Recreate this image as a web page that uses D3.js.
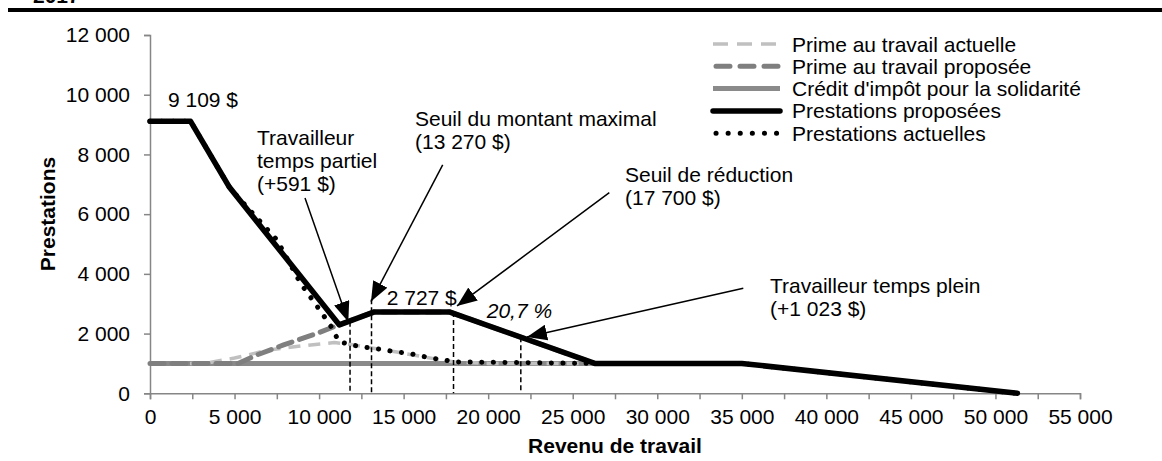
<!DOCTYPE html>
<html><head><meta charset="utf-8">
<script src="https://cdn.jsdelivr.net/npm/d3@7/dist/d3.min.js"></script>
<style>
body{margin:0;background:#fff;}
text{font-family:"Liberation Sans",Arial,sans-serif;}
</style></head>
<body>
<svg id="c" width="1162" height="461"></svg>
<script>
// ---------- data ----------
const xTicks = [0,5000,10000,15000,20000,25000,30000,35000,40000,45000,50000,55000];
const xMinorTicks = [2500,7500,12500,17500,22500,27500,32500,37500,42500,47500,52500];
const yTicks = [0,2000,4000,6000,8000,10000,12000];

const seriesNames = ["Prime au travail actuelle","Prime au travail proposée","Crédit d'impôt pour la solidarité","Prestations proposées","Prestations actuelles"];

const primeActuelleX = [0,2400,3400,5000,7000,9000,10900,11800,13200,14600,16700,18000,20000,26300];
const primeActuelleY = [1000,1000,1020,1180,1450,1590,1700,1640,1510,1380,1170,1050,1000,1000];

const primeProposeeX = [0,5200,6300,7900,9900,11200,13270,17700,26300];
const primeProposeeY = [1000,1000,1280,1620,2010,2300,2727,2727,1000];

const creditX = [0,26300];
const creditY = [1000,1000];

const proposeesX = [0,2400,4700,11200,13270,17700,26300,35000,51300];
const proposeesY = [9109,9109,6900,2290,2727,2727,1000,1000,0];

const actuellesX = [0,2400,4750,7500,8900,10100,10850,11150,11830,12500,13200,13900,14600,15300,16700,17400,18000,26300,35000,51300];
const actuellesY = [9109,9109,6850,5140,3690,2740,2120,1730,1640,1550,1510,1450,1380,1340,1170,1120,1050,1000,1000,0];

// vertical dashed markers
const markerX   = [11830,13100,17950,21930];
const markerTop = [2400,3150,2727,1880];

// annotations (data coordinates)
const annotText = [["9 109 $"],["Travailleur","temps partiel","(+591 $)"],["Seuil du montant maximal","(13 270 $)"],["2 727 $"],["Seuil de réduction","(17 700 $)"],["20,7 %"],["Travailleur temps plein","(+1 023 $)"]];
const annotX = [3134,6328,15672,13998,28091,19913,36667];
const annotY = [9600,8324,8937,2960,7093,2514,3352];
const annotAnchor = ["middle","start","start","start","start","start","start"];
const annotItalic = [false,false,false,false,false,true,false];

const arrowFromX = [9167,17310,27163,35088];
const arrowFromY = [6537,7653,6724,3520];
const arrowToX   = [11727,13070,18156,22296];
const arrowToY   = [2400,3071,2926,1887];

// ---------- chart ----------
const svg = d3.select("#c");
const x = d3.scaleLinear().domain([0,55000]).range([150,1080]);
const y = d3.scaleLinear().domain([0,12000]).range([393.3,35]);
const fmt = d3.formatLocale({decimal:",",thousands:" ",grouping:[3],currency:["","$"]}).format(",d");
const FS = 21;

// top rule and clipped title
svg.append("text").attr("x",33).attr("y",3).attr("font-size",FS).attr("font-weight","bold").text("2017");
svg.append("rect").attr("x",8).attr("y",8).attr("width",1154).attr("height",4).attr("fill","#000");

const axisColor = "#868686";
// y axis
const gy = svg.append("g").attr("transform","translate(150,0)")
  .call(d3.axisLeft(y).tickValues(yTicks).tickSize(6).tickPadding(14).tickFormat(fmt));
// x axis
const gx = svg.append("g").attr("transform","translate(0,393.3)")
  .call(d3.axisBottom(x).tickValues(xTicks).tickSize(6).tickPadding(10).tickFormat(fmt));
svg.append("g").attr("transform","translate(0,393.3)")
  .call(d3.axisBottom(x).tickValues(xMinorTicks).tickSize(6).tickFormat(""))
  .select(".domain").remove();
svg.selectAll(".domain").attr("stroke",axisColor).attr("stroke-width",1.5);
svg.selectAll(".tick line").attr("stroke",axisColor).attr("stroke-width",1.5);
svg.selectAll(".tick text").attr("font-size",FS).attr("fill","#000").attr("font-family","Liberation Sans, Arial, sans-serif");

// axis titles
svg.append("text").attr("x",615).attr("y",453).attr("text-anchor","middle").attr("font-size",FS).attr("font-weight","bold").text("Revenu de travail");
svg.append("text").attr("transform","translate(55,214) rotate(-90)").attr("text-anchor","middle").attr("font-size",FS).attr("font-weight","bold").text("Prestations");

// series
const styles = [
  {stroke:"#c0c0c0", width:3.5, dash:"12 8", cap:"butt"},
  {stroke:"#7f7f7f", width:5, dash:"14 8", cap:"round"},
  {stroke:"#8a8a8a", width:5, dash:null, cap:"butt"},
  {stroke:"#000", width:5.5, dash:null, cap:"round"},
  {stroke:"#000", width:5, dash:"0.1 11.5", cap:"round"}
];
const seriesData = [
  d3.zip(primeActuelleX, primeActuelleY),
  d3.zip(primeProposeeX, primeProposeeY),
  d3.zip(creditX, creditY),
  d3.zip(proposeesX, proposeesY),
  d3.zip(actuellesX, actuellesY)
];
const line = d3.line().x(d=>x(d[0])).y(d=>y(d[1]));
const drawOrder = [2,0,1,4,3];
drawOrder.forEach(i=>{
  const s = styles[i];
  svg.append("path").datum(seriesData[i]).attr("d",line).attr("fill","none")
    .attr("stroke",s.stroke).attr("stroke-width",s.width)
    .attr("stroke-dasharray",s.dash).attr("stroke-linecap",s.cap).attr("stroke-linejoin","round");
});

// vertical dashed markers
svg.selectAll(".mk").data(d3.zip(markerX,markerTop)).join("line")
  .attr("x1",d=>x(d[0])).attr("x2",d=>x(d[0])).attr("y1",d=>y(d[1])).attr("y2",y(0))
  .attr("stroke","#000").attr("stroke-width",1.5).attr("stroke-dasharray","5 3");

// arrows
const defs = svg.append("defs");
defs.append("marker").attr("id","ah").attr("viewBox","0 0 20 16").attr("refX",20).attr("refY",8)
  .attr("markerWidth",20).attr("markerHeight",16).attr("markerUnits","userSpaceOnUse").attr("orient","auto")
  .append("path").attr("d","M0,0 L20,8 L0,16 Z").attr("fill","#000");
arrowFromX.forEach((fx,i)=>{
  svg.append("line").attr("x1",x(fx)).attr("y1",y(arrowFromY[i])).attr("x2",x(arrowToX[i])).attr("y2",y(arrowToY[i]))
    .attr("stroke","#000").attr("stroke-width",1.5).attr("marker-end","url(#ah)");
});

// annotation texts
annotText.forEach((lines,i)=>{
  const t = svg.append("text").attr("x",x(annotX[i])).attr("y",y(annotY[i]))
    .attr("font-size",FS).attr("text-anchor",annotAnchor[i]).attr("font-style",annotItalic[i]?"italic":"normal");
  lines.forEach((l,j)=>t.append("tspan").attr("x",x(annotX[i])).attr("dy",j?23:0).text(l));
});

// legend
const lg = svg.append("g");
const legY0 = 44, legDY = 22.3;
seriesNames.forEach((n,i)=>{
  const s = styles[i];
  const yy = legY0 + i*legDY;
  let dash = s.dash;
  if(i===0) dash="15 9";
  if(i===1) dash="14 10";
  if(i===4) dash="0.1 12";
  lg.append("line").attr("x1",i===4?716:(i===1?716:713)).attr("x2",i===1?778:780).attr("y1",yy).attr("y2",yy)
    .attr("stroke",s.stroke).attr("stroke-width",s.width).attr("stroke-dasharray",dash).attr("stroke-linecap",s.cap);
  lg.append("text").attr("x",792).attr("y",yy+7.5).attr("font-size",FS).text(n);
});
</script>
</body></html>
